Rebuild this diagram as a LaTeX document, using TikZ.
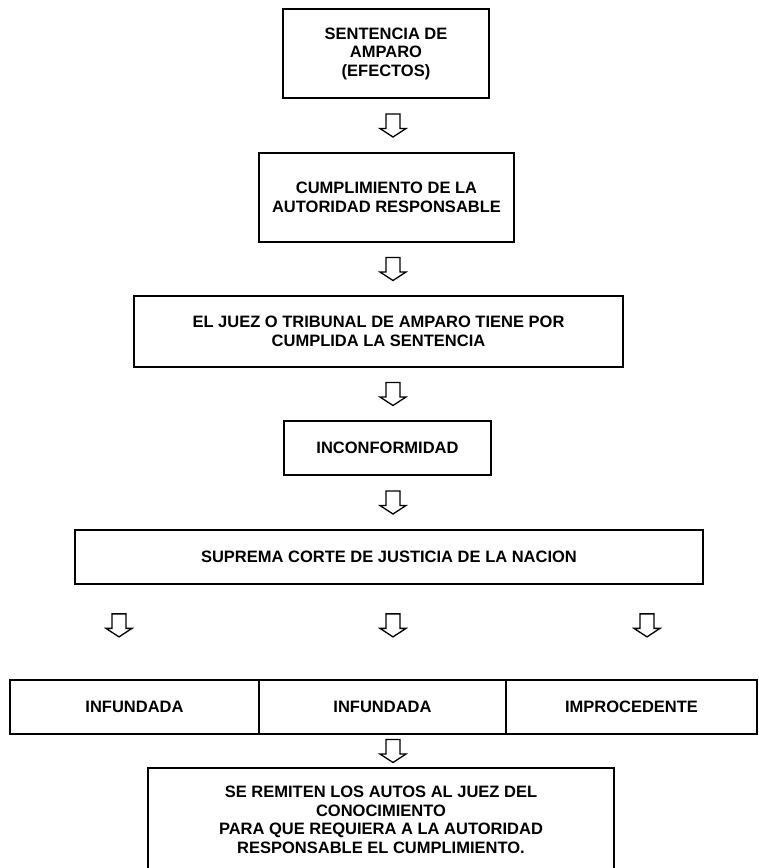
\documentclass[tikz,border=0pt]{standalone}
\usepackage{fontspec}
\setmainfont{Liberation Sans}
\usetikzlibrary{calc}
\begin{document}
\begin{tikzpicture}[x=1pt,y=-1pt,
  box/.style={draw=black, line width=1.4pt, align=center, inner sep=0pt,
    font=\fontsize{16.5}{18.5}\selectfont\bfseries},
  darrow/.pic={\draw[line width=1.3pt, line join=miter]
    (-7,-11.5) -- (7,-11.5) -- (7,3) -- (13,3) -- (0,11.5) -- (-13,3) -- (-7,3) -- cycle;}
]
\useasboundingbox (0,0) rectangle (759,868);
\fill[white] (0,0) rectangle (759,868);

\node[box, minimum width=206, minimum height=89] (b1) at (386,53.5)
  {SENTENCIA DE\\AMPARO\\(EFECTOS)};
\node[box, minimum width=255, minimum height=89] (b2) at (386.5,197.5)
  {CUMPLIMIENTO DE LA\\AUTORIDAD RESPONSABLE};
\node[box, minimum width=489, minimum height=71] (b3) at (378.5,331.5)
  {EL JUEZ O TRIBUNAL DE AMPARO TIENE POR\\CUMPLIDA LA SENTENCIA};
\node[box, minimum width=207, minimum height=54] (b4) at (387.5,448)
  {INCONFORMIDAD};
\node[box, minimum width=628, minimum height=54] (b5) at (389,557)
  {SUPREMA CORTE DE JUSTICIA DE LA NACION};
\node[box, minimum width=249, minimum height=54] (r1) at (134.5,707) {INFUNDADA};
\node[box, minimum width=247, minimum height=54] (r2) at (382.5,707) {INFUNDADA};
\node[box, minimum width=251, minimum height=54] (r3) at (631.5,707) {IMPROCEDENTE};
\node[box, minimum width=466, minimum height=104] (b6) at (381,820)
  {SE REMITEN LOS AUTOS AL JUEZ DEL\\CONOCIMIENTO\\PARA QUE REQUIERA A LA AUTORIDAD\\RESPONSABLE EL CUMPLIMIENTO.};

\coordinate (xa) at (119,0);
\coordinate (xb) at (393,0);
\coordinate (xc) at (647,0);
\coordinate (m1) at ($(b1.south)!0.5!(b2.north)$);
\coordinate (m2) at ($(b2.south)!0.5!(b3.north)$);
\coordinate (m3) at ($(b3.south)!0.5!(b4.north)$);
\coordinate (m4) at ($(b4.south)!0.5!(b5.north)$);
\coordinate (m5) at ($(b5.south)!0.43!(r2.north)$);
\coordinate (m6) at ($(r2.south)!0.5!(b6.north)$);

\pic at (xb |- m1) {darrow};
\pic at (xb |- m2) {darrow};
\pic at (xb |- m3) {darrow};
\pic at (xb |- m4) {darrow};
\pic at (xa |- m5) {darrow};
\pic at (xb |- m5) {darrow};
\pic at (xc |- m5) {darrow};
\pic at (xb |- m6) {darrow};
\end{tikzpicture}
\end{document}
